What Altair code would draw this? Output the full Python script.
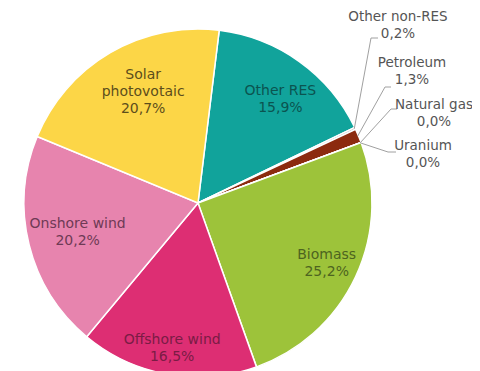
import math
import altair as alt
import pandas as pd

# ---- data ----
categories = ["Other RES", "Other non-RES", "Petroleum", "Natural gas", "Uranium",
              "Biomass", "Offshore wind", "Onshore wind", "Solar photovotaic"]
shares = [15.9, 0.2, 1.3, 0.0, 0.0, 25.2, 16.5, 20.2, 20.7]
share_labels = ["15,9%", "0,2%", "1,3%", "0,0%", "0,0%", "25,2%", "16,5%", "20,2%", "20,7%"]
display_names = ["Other RES", "Other non-RES", "Petroleum", "Natural gas", "Uranium",
                 "Biomass", "Offshore wind", "Onshore wind", "Solar\nphotovotaic"]
outside_labels = ["Other non-RES", "Petroleum", "Natural gas", "Uranium"]

# ---- styles ----
slice_colors = ["#11a39b", "#c4c4c4", "#8c2b0f", "#6b6b6b", "#e0a040",
                "#9dc33a", "#dd2e73", "#e784ae", "#fcd647"]
inner_text_colors = {"Other RES": "#0b5450", "Biomass": "#4d6420", "Offshore wind": "#7a1c45",
                     "Onshore wind": "#6e3a55", "Solar photovotaic": "#5c4e1c"}
outer_text_color = "#555555"
leader_color = "#a0a0a0"
FONT = "DejaVu Sans"
LINE_H = 17

# ---- layout (chart pixel coordinates) ----
CX, CY, R = 190, 195, 174
START = math.radians(7.0)
inner_label_radius = {"Other RES": 132, "Biomass": 142, "Offshore wind": 148,
                      "Onshore wind": 124, "Solar photovotaic": 124}
inner_label_nudge_deg = {"Other RES": 3.0, "Solar photovotaic": 4.0}
# centre x, first-line y
outer_label_pos = {"Other non-RES": (390, 9), "Petroleum": (404, 55),
                   "Natural gas": (426, 97), "Uranium": (415, 138)}
leader_elbow = {"Other non-RES": (363, 30, 370), "Petroleum": (377, 79, 383),
                "Natural gas": (383, 101, 389), "Uranium": (380, 144, 388)}

rows = []
for i, c in enumerate(categories):
    is_out = c in outside_labels
    txt = f"{display_names[i]}\n{share_labels[i]}"
    rows.append({
        "category": c,
        "value": shares[i],
        "idx": i,
        "inner_text": "" if is_out else txt,
        "nlines": txt.count("\n") + 1,
        "inner_r": inner_label_radius.get(c, 100),
        "nudge": math.radians(inner_label_nudge_deg.get(c, 0.0)),
        "text_color": inner_text_colors.get(c, "#000000"),
        "outer_text": txt if is_out else None,
        "lx": outer_label_pos[c][0] if is_out else None,
        "ly": outer_label_pos[c][1] if is_out else None,
        "ex": leader_elbow[c][0] if is_out else None,
        "ey": leader_elbow[c][1] if is_out else None,
        "ex2": leader_elbow[c][2] if is_out else None,
    })
df = pd.DataFrame(rows)

theta = alt.Theta("value:Q", stack=True,
                  scale=alt.Scale(range=[START, START + 2 * math.pi]))
order = alt.Order("idx:Q", sort="ascending")

base = alt.Chart(df)

arcs = base.mark_arc(radius=R, stroke="white", strokeWidth=1.5).encode(
    theta=theta,
    order=order,
    x=alt.value(CX),
    y=alt.value(CY),
    color=alt.Color("category:N", scale=alt.Scale(domain=categories, range=slice_colors),
                    legend=None),
)

# mid-angle of every slice, computed from the stacked values
angles = base.transform_window(
    cum="sum(value)", sort=[alt.SortField("idx", order="ascending")]
).transform_joinaggregate(
    total="sum(value)"
).transform_calculate(
    mid=f"{START} + 2*PI*(datum.cum - datum.value/2)/datum.total"
)

inner_text = angles.transform_filter("datum.inner_text != ''").transform_calculate(
    tx=f"{CX} + datum.inner_r*sin(datum.mid + datum.nudge)",
    ty=f"{CY} - datum.inner_r*cos(datum.mid + datum.nudge) - (datum.nlines - 1)*{LINE_H / 2}",
).mark_text(font=FONT, fontSize=14, lineBreak="\n", lineHeight=LINE_H,
            align="center", baseline="middle").encode(
    x=alt.X("tx:Q", scale=None),
    y=alt.Y("ty:Q", scale=None),
    text="inner_text:N",
    color=alt.Color("text_color:N", scale=None),
)

leader_base = angles.transform_filter("isValid(datum.ex)").transform_calculate(
    px=f"{CX} + {R - 1}*sin(datum.mid)",
    py=f"{CY} - {R - 1}*cos(datum.mid)",
)

leader1 = leader_base.mark_rule(color=leader_color, strokeWidth=1).encode(
    x=alt.X("px:Q", scale=None),
    y=alt.Y("py:Q", scale=None),
    x2="ex:Q",
    y2="ey:Q",
)
leader2 = leader_base.mark_rule(color=leader_color, strokeWidth=1).encode(
    x=alt.X("ex:Q", scale=None),
    y=alt.Y("ey:Q", scale=None),
    x2="ex2:Q",
    y2="ey:Q",
)

outer_text = base.transform_filter("isValid(datum.lx)").mark_text(
    font=FONT, fontSize=13.5, lineBreak="\n", lineHeight=LINE_H,
    align="center", baseline="middle", color=outer_text_color
).encode(
    x=alt.X("lx:Q", scale=None),
    y=alt.Y("ly:Q", scale=None),
    text="outer_text:N",
)

chart = alt.layer(arcs, inner_text, leader1, leader2, outer_text).resolve_scale(
    color="independent"
).properties(
    width=464, height=363, padding=0,
    autosize=alt.AutoSizeParams(type="none"),
    background="white",
).configure_view(strokeWidth=0)

chart.save("out.html", embed_options={"renderer": "svg", "actions": False})
